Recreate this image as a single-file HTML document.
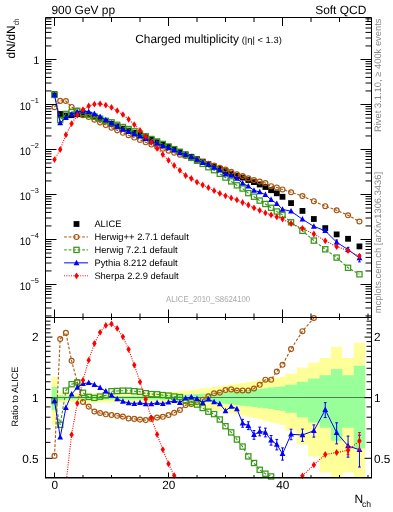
<!DOCTYPE html><html><head><meta charset="utf-8"><style>html,body{margin:0;padding:0;background:#fff;}svg{display:block;will-change:transform;}text{font-family:"Liberation Sans",sans-serif;text-rendering:geometricPrecision;}</style></head><body>
<svg width="393" height="512" viewBox="0 0 393 512">
<rect x="0" y="0" width="393" height="512" fill="#fff"/>
<defs><clipPath id="cm"><rect x="45.5" y="17.5" width="326.0" height="300.0"/></clipPath>
<clipPath id="cr"><rect x="45.5" y="317.5" width="326.0" height="160.0"/></clipPath></defs>
<g clip-path="url(#cr)">
<polygon points="51.65,377.08 57.35,377.08 57.35,393.1 63.05,393.1 63.05,393.18 68.75,393.18 68.75,393.18 74.45,393.18 74.45,393.18 80.15,393.18 80.15,393.18 85.85,393.18 85.85,393.18 91.55,393.18 91.55,393.18 97.25,393.18 97.25,393.18 102.95,393.18 102.95,393.18 108.65,393.18 108.65,393.18 114.35,393.18 114.35,393.18 120.05,393.18 120.05,393.18 125.75,393.18 125.75,393.18 131.45,393.18 131.45,393.18 137.15,393.18 137.15,393.18 142.85,393.18 142.85,393.18 148.55,393.18 148.55,393.18 154.25,393.18 154.25,393.18 159.95,393.18 159.95,392.86 165.65,392.86 165.65,392.39 171.35,392.39 171.35,391.85 177.05,391.85 177.05,391.25 182.75,391.25 182.75,390.61 188.45,390.61 188.45,389.93 194.15,389.93 194.15,389.23 199.85,389.23 199.85,388.5 205.55,388.5 205.55,387.75 211.25,387.75 211.25,386.98 216.95,386.98 216.95,386.19 222.65,386.19 222.65,385.39 228.35,385.39 228.35,384.57 234.05,384.57 234.05,383.75 239.75,383.75 239.75,382.91 245.45,382.91 245.45,382.07 251.15,382.07 251.15,381.22 256.85,381.22 256.85,380.36 262.55,380.36 262.55,379.49 268.25,379.49 268.25,378.62 273.95,378.62 273.95,377.75 279.65,377.75 279.65,376.87 285.35,376.87 285.35,373.76 296.75,373.76 296.75,367.41 308.15,367.41 308.15,362.84 319.55,362.84 319.55,357.99 330.95,357.99 330.95,347.04 342.35,347.04 342.35,357.99 353.75,357.99 353.75,342.93 365.15,342.93 365.15,490 353.75,490 353.75,472.51 342.35,472.51 342.35,490 330.95,490 330.95,472.51 319.55,472.51 319.55,456.57 308.15,456.57 308.15,444.42 296.75,444.42 296.75,430.78 285.35,430.78 285.35,425.09 279.65,425.09 279.65,423.59 273.95,423.59 273.95,422.13 268.25,422.13 268.25,420.72 262.55,420.72 262.55,419.36 256.85,419.36 256.85,418.03 251.15,418.03 251.15,416.75 245.45,416.75 245.45,415.51 239.75,415.51 239.75,414.31 234.05,414.31 234.05,413.15 228.35,413.15 228.35,412.04 222.65,412.04 222.65,410.96 216.95,410.96 216.95,409.93 211.25,409.93 211.25,408.93 205.55,408.93 205.55,407.99 199.85,407.99 199.85,407.08 194.15,407.08 194.15,406.22 188.45,406.22 188.45,405.42 182.75,405.42 182.75,404.66 177.05,404.66 177.05,403.97 171.35,403.97 171.35,403.35 165.65,403.35 165.65,402.82 159.95,402.82 159.95,402.46 154.25,402.46 154.25,402.46 148.55,402.46 148.55,402.46 142.85,402.46 142.85,402.46 137.15,402.46 137.15,402.46 131.45,402.46 131.45,402.46 125.75,402.46 125.75,402.46 120.05,402.46 120.05,402.46 114.35,402.46 114.35,402.46 108.65,402.46 108.65,402.46 102.95,402.46 102.95,402.46 97.25,402.46 97.25,402.46 91.55,402.46 91.55,402.46 85.85,402.46 85.85,402.46 80.15,402.46 80.15,402.46 74.45,402.46 74.45,402.46 68.75,402.46 68.75,402.46 63.05,402.46 63.05,402.55 57.35,402.55 57.35,424.74 51.65,424.74" fill="#ffff99"/>
<polygon points="51.65,387.01 57.35,387.01 57.35,395.37 63.05,395.37 63.05,395.88 68.75,395.88 68.75,395.88 74.45,395.88 74.45,395.88 80.15,395.88 80.15,395.88 85.85,395.88 85.85,395.88 91.55,395.88 91.55,395.88 97.25,395.88 97.25,395.88 102.95,395.88 102.95,395.88 108.65,395.88 108.65,395.88 114.35,395.88 114.35,395.88 120.05,395.88 120.05,395.88 125.75,395.88 125.75,395.88 131.45,395.88 131.45,395.88 137.15,395.88 137.15,395.88 142.85,395.88 142.85,395.88 148.55,395.88 148.55,395.88 154.25,395.88 154.25,395.88 159.95,395.88 159.95,395.79 165.65,395.79 165.65,395.61 171.35,395.61 171.35,395.38 177.05,395.38 177.05,395.11 182.75,395.11 182.75,394.8 188.45,394.8 188.45,394.47 194.15,394.47 194.15,394.1 199.85,394.1 199.85,393.71 205.55,393.71 205.55,393.3 211.25,393.3 211.25,392.87 216.95,392.87 216.95,392.41 222.65,392.41 222.65,391.94 228.35,391.94 228.35,391.45 234.05,391.45 234.05,390.94 239.75,390.94 239.75,390.42 245.45,390.42 245.45,389.88 251.15,389.88 251.15,389.33 256.85,389.33 256.85,388.77 262.55,388.77 262.55,388.19 268.25,388.19 268.25,387.6 273.95,387.6 273.95,387.01 279.65,387.01 279.65,386.4 285.35,386.4 285.35,384.8 296.75,384.8 296.75,381.76 308.15,381.76 308.15,378.47 319.55,378.47 319.55,375.37 330.95,375.37 330.95,369.04 342.35,369.04 342.35,375.37 353.75,375.37 353.75,365.82 365.15,365.82 365.15,448.39 353.75,448.39 353.75,427.77 342.35,427.77 342.35,440.63 330.95,440.63 330.95,427.77 319.55,427.77 319.55,422.39 308.15,422.39 308.15,417.21 296.75,417.21 296.75,412.84 285.35,412.84 285.35,410.68 279.65,410.68 279.65,409.89 273.95,409.89 273.95,409.12 268.25,409.12 268.25,408.37 262.55,408.37 262.55,407.65 256.85,407.65 256.85,406.96 251.15,406.96 251.15,406.29 245.45,406.29 245.45,405.65 239.75,405.65 239.75,405.03 234.05,405.03 234.05,404.44 228.35,404.44 228.35,403.87 222.65,403.87 222.65,403.33 216.95,403.33 216.95,402.82 211.25,402.82 211.25,402.33 205.55,402.33 205.55,401.88 199.85,401.88 199.85,401.45 194.15,401.45 194.15,401.06 188.45,401.06 188.45,400.69 182.75,400.69 182.75,400.37 177.05,400.37 177.05,400.08 171.35,400.08 171.35,399.84 165.65,399.84 165.65,399.66 159.95,399.66 159.95,399.56 154.25,399.56 154.25,399.56 148.55,399.56 148.55,399.56 142.85,399.56 142.85,399.56 137.15,399.56 137.15,399.56 131.45,399.56 131.45,399.56 125.75,399.56 125.75,399.56 120.05,399.56 120.05,399.56 114.35,399.56 114.35,399.56 108.65,399.56 108.65,399.56 102.95,399.56 102.95,399.56 97.25,399.56 97.25,399.56 91.55,399.56 91.55,399.56 85.85,399.56 85.85,399.56 80.15,399.56 80.15,399.56 74.45,399.56 74.45,399.56 68.75,399.56 68.75,399.56 63.05,399.56 63.05,400.09 57.35,400.09 57.35,409.88 51.65,409.88" fill="#99ff99"/>
<rect x="45.5" y="397" width="326" height="1" fill="#000"/>
<rect x="51.65" y="397" width="313.5" height="1" fill="#4d7f4d"/>
</g>
<g clip-path="url(#cr)"><polyline points="54.5,455.9 60.2,339 65.9,332.9 71.6,360.8 77.3,382.1 83,402 88.7,406.6 94.4,411.5 100.1,413 105.8,414.3 111.5,415 117.2,415.8 122.9,416.6 128.6,418.5 134.3,418.9 140,419.6 145.7,420.1 151.4,418.9 157.1,417.6 162.8,416.8 168.5,415 174.2,412.8 179.9,410 185.6,405.1 191.3,404.1 197,402 202.7,399.7 208.4,396.3 214.1,393.3 219.8,392.6 225.5,390 231.2,389.4 236.9,390.5 242.6,390.5 248.3,390.5 254,388.5 259.7,384.8 265.4,379.7 271.1,379.7 276.8,371.6 282.5,364.8 291.05,349.1 302.45,331.2 313.85,318 325.25,299.71 336.65,289.87 348.05,292.55 359.45,286.29" fill="none" stroke="#a8560e" stroke-width="1.1" stroke-dasharray="2.8 1.7"/></g><circle cx="54.5" cy="455.9" r="2.45" fill="none" stroke="#a8560e" stroke-width="1.2"/><circle cx="60.2" cy="339" r="2.45" fill="none" stroke="#a8560e" stroke-width="1.2"/><circle cx="65.9" cy="332.9" r="2.45" fill="none" stroke="#a8560e" stroke-width="1.2"/><circle cx="71.6" cy="360.8" r="2.45" fill="none" stroke="#a8560e" stroke-width="1.2"/><circle cx="77.3" cy="382.1" r="2.45" fill="none" stroke="#a8560e" stroke-width="1.2"/><circle cx="83" cy="402" r="2.45" fill="none" stroke="#a8560e" stroke-width="1.2"/><circle cx="88.7" cy="406.6" r="2.45" fill="none" stroke="#a8560e" stroke-width="1.2"/><circle cx="94.4" cy="411.5" r="2.45" fill="none" stroke="#a8560e" stroke-width="1.2"/><circle cx="100.1" cy="413" r="2.45" fill="none" stroke="#a8560e" stroke-width="1.2"/><circle cx="105.8" cy="414.3" r="2.45" fill="none" stroke="#a8560e" stroke-width="1.2"/><circle cx="111.5" cy="415" r="2.45" fill="none" stroke="#a8560e" stroke-width="1.2"/><circle cx="117.2" cy="415.8" r="2.45" fill="none" stroke="#a8560e" stroke-width="1.2"/><circle cx="122.9" cy="416.6" r="2.45" fill="none" stroke="#a8560e" stroke-width="1.2"/><circle cx="128.6" cy="418.5" r="2.45" fill="none" stroke="#a8560e" stroke-width="1.2"/><circle cx="134.3" cy="418.9" r="2.45" fill="none" stroke="#a8560e" stroke-width="1.2"/><circle cx="140" cy="419.6" r="2.45" fill="none" stroke="#a8560e" stroke-width="1.2"/><circle cx="145.7" cy="420.1" r="2.45" fill="none" stroke="#a8560e" stroke-width="1.2"/><circle cx="151.4" cy="418.9" r="2.45" fill="none" stroke="#a8560e" stroke-width="1.2"/><circle cx="157.1" cy="417.6" r="2.45" fill="none" stroke="#a8560e" stroke-width="1.2"/><circle cx="162.8" cy="416.8" r="2.45" fill="none" stroke="#a8560e" stroke-width="1.2"/><circle cx="168.5" cy="415" r="2.45" fill="none" stroke="#a8560e" stroke-width="1.2"/><circle cx="174.2" cy="412.8" r="2.45" fill="none" stroke="#a8560e" stroke-width="1.2"/><circle cx="179.9" cy="410" r="2.45" fill="none" stroke="#a8560e" stroke-width="1.2"/><circle cx="185.6" cy="405.1" r="2.45" fill="none" stroke="#a8560e" stroke-width="1.2"/><circle cx="191.3" cy="404.1" r="2.45" fill="none" stroke="#a8560e" stroke-width="1.2"/><circle cx="197" cy="402" r="2.45" fill="none" stroke="#a8560e" stroke-width="1.2"/><circle cx="202.7" cy="399.7" r="2.45" fill="none" stroke="#a8560e" stroke-width="1.2"/><circle cx="208.4" cy="396.3" r="2.45" fill="none" stroke="#a8560e" stroke-width="1.2"/><circle cx="214.1" cy="393.3" r="2.45" fill="none" stroke="#a8560e" stroke-width="1.2"/><circle cx="219.8" cy="392.6" r="2.45" fill="none" stroke="#a8560e" stroke-width="1.2"/><circle cx="225.5" cy="390" r="2.45" fill="none" stroke="#a8560e" stroke-width="1.2"/><circle cx="231.2" cy="389.4" r="2.45" fill="none" stroke="#a8560e" stroke-width="1.2"/><circle cx="236.9" cy="390.5" r="2.45" fill="none" stroke="#a8560e" stroke-width="1.2"/><circle cx="242.6" cy="390.5" r="2.45" fill="none" stroke="#a8560e" stroke-width="1.2"/><circle cx="248.3" cy="390.5" r="2.45" fill="none" stroke="#a8560e" stroke-width="1.2"/><circle cx="254" cy="388.5" r="2.45" fill="none" stroke="#a8560e" stroke-width="1.2"/><circle cx="259.7" cy="384.8" r="2.45" fill="none" stroke="#a8560e" stroke-width="1.2"/><circle cx="265.4" cy="379.7" r="2.45" fill="none" stroke="#a8560e" stroke-width="1.2"/><circle cx="271.1" cy="379.7" r="2.45" fill="none" stroke="#a8560e" stroke-width="1.2"/><circle cx="276.8" cy="371.6" r="2.45" fill="none" stroke="#a8560e" stroke-width="1.2"/><circle cx="282.5" cy="364.8" r="2.45" fill="none" stroke="#a8560e" stroke-width="1.2"/><circle cx="291.05" cy="349.1" r="2.45" fill="none" stroke="#a8560e" stroke-width="1.2"/><circle cx="302.45" cy="331.2" r="2.45" fill="none" stroke="#a8560e" stroke-width="1.2"/><circle cx="313.85" cy="318" r="2.45" fill="none" stroke="#a8560e" stroke-width="1.2"/>
<g clip-path="url(#cr)"><polyline points="54.5,401 60.2,424.8 65.9,390.6 71.6,384.2 77.3,382.5 83,392.8 88.7,396.9 94.4,397.9 100.1,396.6 105.8,395.3 111.5,391.2 117.2,391 122.9,390.7 128.6,390.7 134.3,391.2 140,391.7 145.7,393.2 151.4,394.1 157.1,394.3 162.8,395.1 168.5,395.6 174.2,396.5 179.9,397.1 185.6,400.5 191.3,402.1 197,404.6 202.7,408 208.4,411.7 214.1,414.1 219.8,419.5 225.5,426.2 231.2,432.4 236.9,439.5 242.6,446.6 248.3,456.4 254,463 259.7,469.8 265.4,473.7 271.1,476.45 276.8,479.13 282.5,478.68 291.05,483.61 302.45,486.74 313.85,494.34 325.25,492.55 336.65,501.5 348.05,527.45 359.45,522.53" fill="none" stroke="#389818" stroke-width="1.1" stroke-dasharray="2.8 1.7"/></g><rect x="51.9" y="398.4" width="5.2" height="5.2" fill="none" stroke="#389818" stroke-width="1.25"/><rect x="57.6" y="422.2" width="5.2" height="5.2" fill="none" stroke="#389818" stroke-width="1.25"/><rect x="63.3" y="388" width="5.2" height="5.2" fill="none" stroke="#389818" stroke-width="1.25"/><rect x="69" y="381.6" width="5.2" height="5.2" fill="none" stroke="#389818" stroke-width="1.25"/><rect x="74.7" y="379.9" width="5.2" height="5.2" fill="none" stroke="#389818" stroke-width="1.25"/><rect x="80.4" y="390.2" width="5.2" height="5.2" fill="none" stroke="#389818" stroke-width="1.25"/><rect x="86.1" y="394.3" width="5.2" height="5.2" fill="none" stroke="#389818" stroke-width="1.25"/><rect x="91.8" y="395.3" width="5.2" height="5.2" fill="none" stroke="#389818" stroke-width="1.25"/><rect x="97.5" y="394" width="5.2" height="5.2" fill="none" stroke="#389818" stroke-width="1.25"/><rect x="103.2" y="392.7" width="5.2" height="5.2" fill="none" stroke="#389818" stroke-width="1.25"/><rect x="108.9" y="388.6" width="5.2" height="5.2" fill="none" stroke="#389818" stroke-width="1.25"/><rect x="114.6" y="388.4" width="5.2" height="5.2" fill="none" stroke="#389818" stroke-width="1.25"/><rect x="120.3" y="388.1" width="5.2" height="5.2" fill="none" stroke="#389818" stroke-width="1.25"/><rect x="126" y="388.1" width="5.2" height="5.2" fill="none" stroke="#389818" stroke-width="1.25"/><rect x="131.7" y="388.6" width="5.2" height="5.2" fill="none" stroke="#389818" stroke-width="1.25"/><rect x="137.4" y="389.1" width="5.2" height="5.2" fill="none" stroke="#389818" stroke-width="1.25"/><rect x="143.1" y="390.6" width="5.2" height="5.2" fill="none" stroke="#389818" stroke-width="1.25"/><rect x="148.8" y="391.5" width="5.2" height="5.2" fill="none" stroke="#389818" stroke-width="1.25"/><rect x="154.5" y="391.7" width="5.2" height="5.2" fill="none" stroke="#389818" stroke-width="1.25"/><rect x="160.2" y="392.5" width="5.2" height="5.2" fill="none" stroke="#389818" stroke-width="1.25"/><rect x="165.9" y="393" width="5.2" height="5.2" fill="none" stroke="#389818" stroke-width="1.25"/><rect x="171.6" y="393.9" width="5.2" height="5.2" fill="none" stroke="#389818" stroke-width="1.25"/><rect x="177.3" y="394.5" width="5.2" height="5.2" fill="none" stroke="#389818" stroke-width="1.25"/><rect x="183" y="397.9" width="5.2" height="5.2" fill="none" stroke="#389818" stroke-width="1.25"/><rect x="188.7" y="399.5" width="5.2" height="5.2" fill="none" stroke="#389818" stroke-width="1.25"/><rect x="194.4" y="402" width="5.2" height="5.2" fill="none" stroke="#389818" stroke-width="1.25"/><rect x="200.1" y="405.4" width="5.2" height="5.2" fill="none" stroke="#389818" stroke-width="1.25"/><rect x="205.8" y="409.1" width="5.2" height="5.2" fill="none" stroke="#389818" stroke-width="1.25"/><rect x="211.5" y="411.5" width="5.2" height="5.2" fill="none" stroke="#389818" stroke-width="1.25"/><rect x="217.2" y="416.9" width="5.2" height="5.2" fill="none" stroke="#389818" stroke-width="1.25"/><rect x="222.9" y="423.6" width="5.2" height="5.2" fill="none" stroke="#389818" stroke-width="1.25"/><rect x="228.6" y="429.8" width="5.2" height="5.2" fill="none" stroke="#389818" stroke-width="1.25"/><rect x="234.3" y="436.9" width="5.2" height="5.2" fill="none" stroke="#389818" stroke-width="1.25"/><rect x="240" y="444" width="5.2" height="5.2" fill="none" stroke="#389818" stroke-width="1.25"/><rect x="245.7" y="453.8" width="5.2" height="5.2" fill="none" stroke="#389818" stroke-width="1.25"/><rect x="251.4" y="460.4" width="5.2" height="5.2" fill="none" stroke="#389818" stroke-width="1.25"/><rect x="257.1" y="467.2" width="5.2" height="5.2" fill="none" stroke="#389818" stroke-width="1.25"/><rect x="262.8" y="471.1" width="5.2" height="5.2" fill="none" stroke="#389818" stroke-width="1.25"/><rect x="268.5" y="473.85" width="5.2" height="5.2" fill="none" stroke="#389818" stroke-width="1.25"/>
<g clip-path="url(#cr)"><path d="M242.6 419.35V427.23M241.2 419.35H244M241.2 427.23H244" stroke="#0000ff" stroke-width="1" fill="none"/><path d="M248.3 421.75V429.63M246.9 421.75H249.7M246.9 429.63H249.7" stroke="#0000ff" stroke-width="1" fill="none"/><path d="M254 430.53V439.28M252.6 430.53H255.4M252.6 439.28H255.4" stroke="#0000ff" stroke-width="1" fill="none"/><path d="M259.7 427.13V435.88M258.3 427.13H261.1M258.3 435.88H261.1" stroke="#0000ff" stroke-width="1" fill="none"/><path d="M265.4 428.13V436.88M264 428.13H266.8M264 436.88H266.8" stroke="#0000ff" stroke-width="1" fill="none"/><path d="M271.1 435.52V445.15M269.7 435.52H272.5M269.7 445.15H272.5" stroke="#0000ff" stroke-width="1" fill="none"/><path d="M276.8 439.41V449.91M275.4 439.41H278.2M275.4 449.91H278.2" stroke="#0000ff" stroke-width="1" fill="none"/><path d="M282.5 447.88V460.14M281.1 447.88H283.9M281.1 460.14H283.9" stroke="#0000ff" stroke-width="1" fill="none"/><path d="M291.05 429.21V439.71M289.65 429.21H292.45M289.65 439.71H292.45" stroke="#0000ff" stroke-width="1" fill="none"/><path d="M302.45 429.08V441.34M301.05 429.08H303.85M301.05 441.34H303.85" stroke="#0000ff" stroke-width="1" fill="none"/><path d="M313.85 424.88V437.14M312.45 424.88H315.25M312.45 437.14H315.25" stroke="#0000ff" stroke-width="1" fill="none"/><path d="M325.25 402.67V417.57M323.85 402.67H326.65M323.85 417.57H326.65" stroke="#0000ff" stroke-width="1" fill="none"/><path d="M336.65 422.79V443.88M335.25 422.79H338.05M335.25 443.88H338.05" stroke="#0000ff" stroke-width="1" fill="none"/><path d="M348.05 436.09V457.18M346.65 436.09H349.45M346.65 457.18H349.45" stroke="#0000ff" stroke-width="1" fill="none"/><path d="M359.45 435.23V467.05M358.05 435.23H360.85M358.05 467.05H360.85" stroke="#0000ff" stroke-width="1" fill="none"/><polyline points="54.5,400.7 60.2,437.2 65.9,407.7 71.6,394.3 77.3,387.4 83,383.7 88.7,382.8 94.4,384.6 100.1,387.7 105.8,391.3 111.5,395.3 117.2,398.9 122.9,401.4 128.6,402.9 134.3,403.6 140,402.8 145.7,403.9 151.4,403.9 157.1,402.8 162.8,403.7 168.5,402.3 174.2,400.6 179.9,402.7 185.6,398.3 191.3,396.9 197,398.7 202.7,402.8 208.4,399.3 214.1,401.9 219.8,404 225.5,410.9 231.2,406.4 236.9,408.9 242.6,423.2 248.3,425.6 254,434.8 259.7,431.4 265.4,432.4 271.1,440.2 276.8,444.5 282.5,453.8 291.05,434.3 302.45,435 313.85,430.8 325.25,409.8 336.65,432.7 348.05,446 359.45,449.7" fill="none" stroke="#0000ff" stroke-width="1"/></g><polygon points="54.5,397.5 57.4,403 51.6,403" fill="#0000ff"/><polygon points="60.2,434 63.1,439.5 57.3,439.5" fill="#0000ff"/><polygon points="65.9,404.5 68.8,410 63,410" fill="#0000ff"/><polygon points="71.6,391.1 74.5,396.6 68.7,396.6" fill="#0000ff"/><polygon points="77.3,384.2 80.2,389.7 74.4,389.7" fill="#0000ff"/><polygon points="83,380.5 85.9,386 80.1,386" fill="#0000ff"/><polygon points="88.7,379.6 91.6,385.1 85.8,385.1" fill="#0000ff"/><polygon points="94.4,381.4 97.3,386.9 91.5,386.9" fill="#0000ff"/><polygon points="100.1,384.5 103,390 97.2,390" fill="#0000ff"/><polygon points="105.8,388.1 108.7,393.6 102.9,393.6" fill="#0000ff"/><polygon points="111.5,392.1 114.4,397.6 108.6,397.6" fill="#0000ff"/><polygon points="117.2,395.7 120.1,401.2 114.3,401.2" fill="#0000ff"/><polygon points="122.9,398.2 125.8,403.7 120,403.7" fill="#0000ff"/><polygon points="128.6,399.7 131.5,405.2 125.7,405.2" fill="#0000ff"/><polygon points="134.3,400.4 137.2,405.9 131.4,405.9" fill="#0000ff"/><polygon points="140,399.6 142.9,405.1 137.1,405.1" fill="#0000ff"/><polygon points="145.7,400.7 148.6,406.2 142.8,406.2" fill="#0000ff"/><polygon points="151.4,400.7 154.3,406.2 148.5,406.2" fill="#0000ff"/><polygon points="157.1,399.6 160,405.1 154.2,405.1" fill="#0000ff"/><polygon points="162.8,400.5 165.7,406 159.9,406" fill="#0000ff"/><polygon points="168.5,399.1 171.4,404.6 165.6,404.6" fill="#0000ff"/><polygon points="174.2,397.4 177.1,402.9 171.3,402.9" fill="#0000ff"/><polygon points="179.9,399.5 182.8,405 177,405" fill="#0000ff"/><polygon points="185.6,395.1 188.5,400.6 182.7,400.6" fill="#0000ff"/><polygon points="191.3,393.7 194.2,399.2 188.4,399.2" fill="#0000ff"/><polygon points="197,395.5 199.9,401 194.1,401" fill="#0000ff"/><polygon points="202.7,399.6 205.6,405.1 199.8,405.1" fill="#0000ff"/><polygon points="208.4,396.1 211.3,401.6 205.5,401.6" fill="#0000ff"/><polygon points="214.1,398.7 217,404.2 211.2,404.2" fill="#0000ff"/><polygon points="219.8,400.8 222.7,406.3 216.9,406.3" fill="#0000ff"/><polygon points="225.5,407.7 228.4,413.2 222.6,413.2" fill="#0000ff"/><polygon points="231.2,403.2 234.1,408.7 228.3,408.7" fill="#0000ff"/><polygon points="236.9,405.7 239.8,411.2 234,411.2" fill="#0000ff"/><polygon points="242.6,420 245.5,425.5 239.7,425.5" fill="#0000ff"/><polygon points="248.3,422.4 251.2,427.9 245.4,427.9" fill="#0000ff"/><polygon points="254,431.6 256.9,437.1 251.1,437.1" fill="#0000ff"/><polygon points="259.7,428.2 262.6,433.7 256.8,433.7" fill="#0000ff"/><polygon points="265.4,429.2 268.3,434.7 262.5,434.7" fill="#0000ff"/><polygon points="271.1,437 274,442.5 268.2,442.5" fill="#0000ff"/><polygon points="276.8,441.3 279.7,446.8 273.9,446.8" fill="#0000ff"/><polygon points="282.5,450.6 285.4,456.1 279.6,456.1" fill="#0000ff"/><polygon points="291.05,431.1 293.95,436.6 288.15,436.6" fill="#0000ff"/><polygon points="302.45,431.8 305.35,437.3 299.55,437.3" fill="#0000ff"/><polygon points="313.85,427.6 316.75,433.1 310.95,433.1" fill="#0000ff"/><polygon points="325.25,406.6 328.15,412.1 322.35,412.1" fill="#0000ff"/><polygon points="336.65,429.5 339.55,435 333.75,435" fill="#0000ff"/><polygon points="348.05,442.8 350.95,448.3 345.15,448.3" fill="#0000ff"/><polygon points="359.45,446.5 362.35,452 356.55,452" fill="#0000ff"/>
<g clip-path="url(#cr)"><path d="M348.05 445.93V454.68M346.65 445.93H349.45M346.65 454.68H349.45" stroke="#ff0000" stroke-width="1" fill="none"/><path d="M359.45 432.57V450.11M358.05 432.57H360.85M358.05 450.11H360.85" stroke="#ff0000" stroke-width="1" fill="none"/><polyline points="54.5,690.32 60.2,556.54 65.9,484.05 71.6,434.7 77.3,403.3 83,380.2 88.7,360.2 94.4,343.5 100.1,332.3 105.8,325.4 111.5,323.9 117.2,328.4 122.9,336.8 128.6,349.4 134.3,365.1 140,381.9 145.7,399.3 151.4,418 157.1,434.4 162.8,449.6 168.5,463.8 174.2,475.6 179.9,480.47 185.6,492.11 191.3,494.79 197,500.61 202.7,502.4 208.4,503.29 214.1,505.98 219.8,507.32 225.5,507.77 231.2,506.42 236.9,504.64 242.6,509.11 248.3,509.56 254,512.69 259.7,513.58 265.4,513.58 271.1,508.21 276.8,503.29 282.5,497.03 291.05,488.98 302.45,475.8 313.85,464.9 325.25,454.5 336.65,452.5 348.05,450.2 359.45,440.9" fill="none" stroke="#ff0000" stroke-width="1.1" stroke-dasharray="1 1.3"/></g><polygon points="71.6,431.3 73.8,434.7 71.6,438.1 69.4,434.7" fill="#ff0000"/><polygon points="77.3,399.9 79.5,403.3 77.3,406.7 75.1,403.3" fill="#ff0000"/><polygon points="83,376.8 85.2,380.2 83,383.6 80.8,380.2" fill="#ff0000"/><polygon points="88.7,356.8 90.9,360.2 88.7,363.6 86.5,360.2" fill="#ff0000"/><polygon points="94.4,340.1 96.6,343.5 94.4,346.9 92.2,343.5" fill="#ff0000"/><polygon points="100.1,328.9 102.3,332.3 100.1,335.7 97.9,332.3" fill="#ff0000"/><polygon points="105.8,322 108,325.4 105.8,328.8 103.6,325.4" fill="#ff0000"/><polygon points="111.5,320.5 113.7,323.9 111.5,327.3 109.3,323.9" fill="#ff0000"/><polygon points="117.2,325 119.4,328.4 117.2,331.8 115,328.4" fill="#ff0000"/><polygon points="122.9,333.4 125.1,336.8 122.9,340.2 120.7,336.8" fill="#ff0000"/><polygon points="128.6,346 130.8,349.4 128.6,352.8 126.4,349.4" fill="#ff0000"/><polygon points="134.3,361.7 136.5,365.1 134.3,368.5 132.1,365.1" fill="#ff0000"/><polygon points="140,378.5 142.2,381.9 140,385.3 137.8,381.9" fill="#ff0000"/><polygon points="145.7,395.9 147.9,399.3 145.7,402.7 143.5,399.3" fill="#ff0000"/><polygon points="151.4,414.6 153.6,418 151.4,421.4 149.2,418" fill="#ff0000"/><polygon points="157.1,431 159.3,434.4 157.1,437.8 154.9,434.4" fill="#ff0000"/><polygon points="162.8,446.2 165,449.6 162.8,453 160.6,449.6" fill="#ff0000"/><polygon points="168.5,460.4 170.7,463.8 168.5,467.2 166.3,463.8" fill="#ff0000"/><polygon points="174.2,472.2 176.4,475.6 174.2,479 172,475.6" fill="#ff0000"/><polygon points="302.45,472.4 304.65,475.8 302.45,479.2 300.25,475.8" fill="#ff0000"/><polygon points="313.85,461.5 316.05,464.9 313.85,468.3 311.65,464.9" fill="#ff0000"/><polygon points="325.25,451.1 327.45,454.5 325.25,457.9 323.05,454.5" fill="#ff0000"/><polygon points="336.65,449.1 338.85,452.5 336.65,455.9 334.45,452.5" fill="#ff0000"/><polygon points="348.05,446.8 350.25,450.2 348.05,453.6 345.85,450.2" fill="#ff0000"/><polygon points="359.45,437.5 361.65,440.9 359.45,444.3 357.25,440.9" fill="#ff0000"/>
<g clip-path="url(#cm)"></g><rect x="51.6" y="91.3" width="5.8" height="5.8" fill="#000"/><rect x="57.3" y="111.1" width="5.8" height="5.8" fill="#000"/><rect x="63" y="112.6" width="5.8" height="5.8" fill="#000"/><rect x="68.7" y="112.3" width="5.8" height="5.8" fill="#000"/><rect x="74.4" y="111.3" width="5.8" height="5.8" fill="#000"/><rect x="80.1" y="111.4" width="5.8" height="5.8" fill="#000"/><rect x="85.8" y="112.1" width="5.8" height="5.8" fill="#000"/><rect x="91.5" y="113.7" width="5.8" height="5.8" fill="#000"/><rect x="97.2" y="116.1" width="5.8" height="5.8" fill="#000"/><rect x="102.9" y="118.5" width="5.8" height="5.8" fill="#000"/><rect x="108.6" y="120.9" width="5.8" height="5.8" fill="#000"/><rect x="114.3" y="123.4" width="5.8" height="5.8" fill="#000"/><rect x="120" y="125.7" width="5.8" height="5.8" fill="#000"/><rect x="125.7" y="127.7" width="5.8" height="5.8" fill="#000"/><rect x="131.4" y="129.9" width="5.8" height="5.8" fill="#000"/><rect x="137.1" y="132.1" width="5.8" height="5.8" fill="#000"/><rect x="142.8" y="134.4" width="5.8" height="5.8" fill="#000"/><rect x="148.5" y="136.9" width="5.8" height="5.8" fill="#000"/><rect x="154.2" y="139.3" width="5.8" height="5.8" fill="#000"/><rect x="159.9" y="141.6" width="5.8" height="5.8" fill="#000"/><rect x="165.6" y="144" width="5.8" height="5.8" fill="#000"/><rect x="171.3" y="146.5" width="5.8" height="5.8" fill="#000"/><rect x="177" y="149" width="5.8" height="5.8" fill="#000"/><rect x="182.7" y="151.5" width="5.8" height="5.8" fill="#000"/><rect x="188.4" y="153.9" width="5.8" height="5.8" fill="#000"/><rect x="194.1" y="156.3" width="5.8" height="5.8" fill="#000"/><rect x="199.8" y="158.7" width="5.8" height="5.8" fill="#000"/><rect x="205.5" y="161.2" width="5.8" height="5.8" fill="#000"/><rect x="211.2" y="163.6" width="5.8" height="5.8" fill="#000"/><rect x="216.9" y="166" width="5.8" height="5.8" fill="#000"/><rect x="222.6" y="168.3" width="5.8" height="5.8" fill="#000"/><rect x="228.3" y="170.7" width="5.8" height="5.8" fill="#000"/><rect x="234" y="173.1" width="5.8" height="5.8" fill="#000"/><rect x="239.7" y="174.7" width="5.8" height="5.8" fill="#000"/><rect x="245.4" y="177.1" width="5.8" height="5.8" fill="#000"/><rect x="251.1" y="179.2" width="5.8" height="5.8" fill="#000"/><rect x="256.8" y="181.6" width="5.8" height="5.8" fill="#000"/><rect x="262.5" y="184.1" width="5.8" height="5.8" fill="#000"/><rect x="268.2" y="187.3" width="5.8" height="5.8" fill="#000"/><rect x="273.9" y="190.4" width="5.8" height="5.8" fill="#000"/><rect x="279.6" y="193.9" width="5.8" height="5.8" fill="#000"/><rect x="288.15" y="200.2" width="5.8" height="5.8" fill="#000"/><rect x="299.55" y="208" width="5.8" height="5.8" fill="#000"/><rect x="310.95" y="216.1" width="5.8" height="5.8" fill="#000"/><rect x="322.35" y="225.2" width="5.8" height="5.8" fill="#000"/><rect x="333.75" y="231.5" width="5.8" height="5.8" fill="#000"/><rect x="345.15" y="235.9" width="5.8" height="5.8" fill="#000"/><rect x="356.55" y="243.5" width="5.8" height="5.8" fill="#000"/>
<g clip-path="url(#cm)"><polyline points="54.5,107.21 60.2,100.88 65.9,101.02 71.6,106.95 77.3,110.71 83,115.26 88.7,116.99 94.4,119.68 100.1,122.42 105.8,125.11 111.5,127.67 117.2,130.35 122.9,132.82 128.6,135.25 134.3,137.54 140,139.89 145.7,142.31 151.4,144.54 157.1,146.65 162.8,148.77 168.5,150.77 174.2,152.77 179.9,154.65 185.6,156.05 191.3,158.23 197,160.16 202.7,162.05 208.4,163.79 214.1,165.52 219.8,167.76 225.5,169.48 231.2,171.74 236.9,174.39 242.6,175.99 248.3,178.39 254,180.04 259.7,181.62 265.4,182.98 271.1,186.18 276.8,187.47 282.5,189.45 291.05,192.24 302.45,196.04 313.85,201.19 325.25,206.2 336.65,210.3 348.05,215.3 359.45,221.5" fill="none" stroke="#a8560e" stroke-width="1.1" stroke-dasharray="2.8 1.7"/></g><circle cx="54.5" cy="107.21" r="2.45" fill="none" stroke="#a8560e" stroke-width="1.2"/><circle cx="60.2" cy="100.88" r="2.45" fill="none" stroke="#a8560e" stroke-width="1.2"/><circle cx="65.9" cy="101.02" r="2.45" fill="none" stroke="#a8560e" stroke-width="1.2"/><circle cx="71.6" cy="106.95" r="2.45" fill="none" stroke="#a8560e" stroke-width="1.2"/><circle cx="77.3" cy="110.71" r="2.45" fill="none" stroke="#a8560e" stroke-width="1.2"/><circle cx="83" cy="115.26" r="2.45" fill="none" stroke="#a8560e" stroke-width="1.2"/><circle cx="88.7" cy="116.99" r="2.45" fill="none" stroke="#a8560e" stroke-width="1.2"/><circle cx="94.4" cy="119.68" r="2.45" fill="none" stroke="#a8560e" stroke-width="1.2"/><circle cx="100.1" cy="122.42" r="2.45" fill="none" stroke="#a8560e" stroke-width="1.2"/><circle cx="105.8" cy="125.11" r="2.45" fill="none" stroke="#a8560e" stroke-width="1.2"/><circle cx="111.5" cy="127.67" r="2.45" fill="none" stroke="#a8560e" stroke-width="1.2"/><circle cx="117.2" cy="130.35" r="2.45" fill="none" stroke="#a8560e" stroke-width="1.2"/><circle cx="122.9" cy="132.82" r="2.45" fill="none" stroke="#a8560e" stroke-width="1.2"/><circle cx="128.6" cy="135.25" r="2.45" fill="none" stroke="#a8560e" stroke-width="1.2"/><circle cx="134.3" cy="137.54" r="2.45" fill="none" stroke="#a8560e" stroke-width="1.2"/><circle cx="140" cy="139.89" r="2.45" fill="none" stroke="#a8560e" stroke-width="1.2"/><circle cx="145.7" cy="142.31" r="2.45" fill="none" stroke="#a8560e" stroke-width="1.2"/><circle cx="151.4" cy="144.54" r="2.45" fill="none" stroke="#a8560e" stroke-width="1.2"/><circle cx="157.1" cy="146.65" r="2.45" fill="none" stroke="#a8560e" stroke-width="1.2"/><circle cx="162.8" cy="148.77" r="2.45" fill="none" stroke="#a8560e" stroke-width="1.2"/><circle cx="168.5" cy="150.77" r="2.45" fill="none" stroke="#a8560e" stroke-width="1.2"/><circle cx="174.2" cy="152.77" r="2.45" fill="none" stroke="#a8560e" stroke-width="1.2"/><circle cx="179.9" cy="154.65" r="2.45" fill="none" stroke="#a8560e" stroke-width="1.2"/><circle cx="185.6" cy="156.05" r="2.45" fill="none" stroke="#a8560e" stroke-width="1.2"/><circle cx="191.3" cy="158.23" r="2.45" fill="none" stroke="#a8560e" stroke-width="1.2"/><circle cx="197" cy="160.16" r="2.45" fill="none" stroke="#a8560e" stroke-width="1.2"/><circle cx="202.7" cy="162.05" r="2.45" fill="none" stroke="#a8560e" stroke-width="1.2"/><circle cx="208.4" cy="163.79" r="2.45" fill="none" stroke="#a8560e" stroke-width="1.2"/><circle cx="214.1" cy="165.52" r="2.45" fill="none" stroke="#a8560e" stroke-width="1.2"/><circle cx="219.8" cy="167.76" r="2.45" fill="none" stroke="#a8560e" stroke-width="1.2"/><circle cx="225.5" cy="169.48" r="2.45" fill="none" stroke="#a8560e" stroke-width="1.2"/><circle cx="231.2" cy="171.74" r="2.45" fill="none" stroke="#a8560e" stroke-width="1.2"/><circle cx="236.9" cy="174.39" r="2.45" fill="none" stroke="#a8560e" stroke-width="1.2"/><circle cx="242.6" cy="175.99" r="2.45" fill="none" stroke="#a8560e" stroke-width="1.2"/><circle cx="248.3" cy="178.39" r="2.45" fill="none" stroke="#a8560e" stroke-width="1.2"/><circle cx="254" cy="180.04" r="2.45" fill="none" stroke="#a8560e" stroke-width="1.2"/><circle cx="259.7" cy="181.62" r="2.45" fill="none" stroke="#a8560e" stroke-width="1.2"/><circle cx="265.4" cy="182.98" r="2.45" fill="none" stroke="#a8560e" stroke-width="1.2"/><circle cx="271.1" cy="186.18" r="2.45" fill="none" stroke="#a8560e" stroke-width="1.2"/><circle cx="276.8" cy="187.47" r="2.45" fill="none" stroke="#a8560e" stroke-width="1.2"/><circle cx="282.5" cy="189.45" r="2.45" fill="none" stroke="#a8560e" stroke-width="1.2"/><circle cx="291.05" cy="192.24" r="2.45" fill="none" stroke="#a8560e" stroke-width="1.2"/><circle cx="302.45" cy="196.04" r="2.45" fill="none" stroke="#a8560e" stroke-width="1.2"/><circle cx="313.85" cy="201.19" r="2.45" fill="none" stroke="#a8560e" stroke-width="1.2"/><circle cx="325.25" cy="206.2" r="2.45" fill="none" stroke="#a8560e" stroke-width="1.2"/><circle cx="336.65" cy="210.3" r="2.45" fill="none" stroke="#a8560e" stroke-width="1.2"/><circle cx="348.05" cy="215.3" r="2.45" fill="none" stroke="#a8560e" stroke-width="1.2"/><circle cx="359.45" cy="221.5" r="2.45" fill="none" stroke="#a8560e" stroke-width="1.2"/>
<g clip-path="url(#cm)"><polyline points="54.5,94.94 60.2,120.06 65.9,113.91 71.6,112.18 77.3,110.8 83,113.2 88.7,114.82 94.4,116.64 100.1,118.75 105.8,120.86 111.5,122.35 117.2,124.8 122.9,127.04 128.6,129.04 134.3,131.35 140,133.66 145.7,136.29 151.4,139 157.1,141.44 162.8,143.92 168.5,146.43 174.2,149.13 179.9,151.77 185.6,155.03 191.3,157.78 197,160.74 202.7,163.9 208.4,167.23 214.1,170.17 219.8,173.77 225.5,177.57 231.2,181.36 236.9,185.34 242.6,188.53 248.3,193.12 254,196.69 259.7,200.61 265.4,203.99 271.1,207.8 276.8,211.5 282.5,214.9 291.05,222.3 302.45,230.8 313.85,240.6 325.25,249.3 336.65,257.6 348.05,267.8 359.45,274.3" fill="none" stroke="#389818" stroke-width="1.1" stroke-dasharray="2.8 1.7"/></g><rect x="51.9" y="92.34" width="5.2" height="5.2" fill="none" stroke="#389818" stroke-width="1.25"/><rect x="57.6" y="117.46" width="5.2" height="5.2" fill="none" stroke="#389818" stroke-width="1.25"/><rect x="63.3" y="111.31" width="5.2" height="5.2" fill="none" stroke="#389818" stroke-width="1.25"/><rect x="69" y="109.58" width="5.2" height="5.2" fill="none" stroke="#389818" stroke-width="1.25"/><rect x="74.7" y="108.2" width="5.2" height="5.2" fill="none" stroke="#389818" stroke-width="1.25"/><rect x="80.4" y="110.6" width="5.2" height="5.2" fill="none" stroke="#389818" stroke-width="1.25"/><rect x="86.1" y="112.22" width="5.2" height="5.2" fill="none" stroke="#389818" stroke-width="1.25"/><rect x="91.8" y="114.04" width="5.2" height="5.2" fill="none" stroke="#389818" stroke-width="1.25"/><rect x="97.5" y="116.15" width="5.2" height="5.2" fill="none" stroke="#389818" stroke-width="1.25"/><rect x="103.2" y="118.26" width="5.2" height="5.2" fill="none" stroke="#389818" stroke-width="1.25"/><rect x="108.9" y="119.75" width="5.2" height="5.2" fill="none" stroke="#389818" stroke-width="1.25"/><rect x="114.6" y="122.2" width="5.2" height="5.2" fill="none" stroke="#389818" stroke-width="1.25"/><rect x="120.3" y="124.44" width="5.2" height="5.2" fill="none" stroke="#389818" stroke-width="1.25"/><rect x="126" y="126.44" width="5.2" height="5.2" fill="none" stroke="#389818" stroke-width="1.25"/><rect x="131.7" y="128.75" width="5.2" height="5.2" fill="none" stroke="#389818" stroke-width="1.25"/><rect x="137.4" y="131.06" width="5.2" height="5.2" fill="none" stroke="#389818" stroke-width="1.25"/><rect x="143.1" y="133.69" width="5.2" height="5.2" fill="none" stroke="#389818" stroke-width="1.25"/><rect x="148.8" y="136.4" width="5.2" height="5.2" fill="none" stroke="#389818" stroke-width="1.25"/><rect x="154.5" y="138.84" width="5.2" height="5.2" fill="none" stroke="#389818" stroke-width="1.25"/><rect x="160.2" y="141.32" width="5.2" height="5.2" fill="none" stroke="#389818" stroke-width="1.25"/><rect x="165.9" y="143.83" width="5.2" height="5.2" fill="none" stroke="#389818" stroke-width="1.25"/><rect x="171.6" y="146.53" width="5.2" height="5.2" fill="none" stroke="#389818" stroke-width="1.25"/><rect x="177.3" y="149.17" width="5.2" height="5.2" fill="none" stroke="#389818" stroke-width="1.25"/><rect x="183" y="152.43" width="5.2" height="5.2" fill="none" stroke="#389818" stroke-width="1.25"/><rect x="188.7" y="155.18" width="5.2" height="5.2" fill="none" stroke="#389818" stroke-width="1.25"/><rect x="194.4" y="158.14" width="5.2" height="5.2" fill="none" stroke="#389818" stroke-width="1.25"/><rect x="200.1" y="161.3" width="5.2" height="5.2" fill="none" stroke="#389818" stroke-width="1.25"/><rect x="205.8" y="164.63" width="5.2" height="5.2" fill="none" stroke="#389818" stroke-width="1.25"/><rect x="211.5" y="167.57" width="5.2" height="5.2" fill="none" stroke="#389818" stroke-width="1.25"/><rect x="217.2" y="171.17" width="5.2" height="5.2" fill="none" stroke="#389818" stroke-width="1.25"/><rect x="222.9" y="174.97" width="5.2" height="5.2" fill="none" stroke="#389818" stroke-width="1.25"/><rect x="228.6" y="178.76" width="5.2" height="5.2" fill="none" stroke="#389818" stroke-width="1.25"/><rect x="234.3" y="182.74" width="5.2" height="5.2" fill="none" stroke="#389818" stroke-width="1.25"/><rect x="240" y="185.93" width="5.2" height="5.2" fill="none" stroke="#389818" stroke-width="1.25"/><rect x="245.7" y="190.52" width="5.2" height="5.2" fill="none" stroke="#389818" stroke-width="1.25"/><rect x="251.4" y="194.09" width="5.2" height="5.2" fill="none" stroke="#389818" stroke-width="1.25"/><rect x="257.1" y="198.01" width="5.2" height="5.2" fill="none" stroke="#389818" stroke-width="1.25"/><rect x="262.8" y="201.39" width="5.2" height="5.2" fill="none" stroke="#389818" stroke-width="1.25"/><rect x="268.5" y="205.2" width="5.2" height="5.2" fill="none" stroke="#389818" stroke-width="1.25"/><rect x="274.2" y="208.9" width="5.2" height="5.2" fill="none" stroke="#389818" stroke-width="1.25"/><rect x="279.9" y="212.3" width="5.2" height="5.2" fill="none" stroke="#389818" stroke-width="1.25"/><rect x="288.45" y="219.7" width="5.2" height="5.2" fill="none" stroke="#389818" stroke-width="1.25"/><rect x="299.85" y="228.2" width="5.2" height="5.2" fill="none" stroke="#389818" stroke-width="1.25"/><rect x="311.25" y="238" width="5.2" height="5.2" fill="none" stroke="#389818" stroke-width="1.25"/><rect x="322.65" y="246.7" width="5.2" height="5.2" fill="none" stroke="#389818" stroke-width="1.25"/><rect x="334.05" y="255" width="5.2" height="5.2" fill="none" stroke="#389818" stroke-width="1.25"/><rect x="345.45" y="265.2" width="5.2" height="5.2" fill="none" stroke="#389818" stroke-width="1.25"/><rect x="356.85" y="271.7" width="5.2" height="5.2" fill="none" stroke="#389818" stroke-width="1.25"/>
<g clip-path="url(#cm)"><path d="M325.25 229.3V232.43M323.85 229.3H326.65M323.85 232.43H326.65" stroke="#0000ff" stroke-width="1" fill="none"/><path d="M336.65 240.01V244.72M335.25 240.01H338.05M335.25 244.72H338.05" stroke="#0000ff" stroke-width="1" fill="none"/><path d="M348.05 247.38V252.09M346.65 247.38H349.45M346.65 252.09H349.45" stroke="#0000ff" stroke-width="1" fill="none"/><path d="M359.45 254.79V261.9M358.05 254.79H360.85M358.05 261.9H360.85" stroke="#0000ff" stroke-width="1" fill="none"/><polyline points="54.5,94.87 60.2,122.83 65.9,117.73 71.6,114.44 77.3,111.9 83,111.17 88.7,111.67 94.4,113.67 100.1,116.77 105.8,119.97 111.5,123.26 117.2,126.57 122.9,129.43 128.6,131.76 134.3,134.12 140,136.14 145.7,138.69 151.4,141.19 157.1,143.34 162.8,145.84 168.5,147.93 174.2,150.05 179.9,153.02 185.6,154.53 191.3,156.62 197,159.42 202.7,162.74 208.4,164.46 214.1,167.44 219.8,170.31 225.5,174.15 231.2,175.54 236.9,178.5 242.6,183.3 248.3,186.24 254,190.39 259.7,192.03 265.4,194.76 271.1,199.7 276.8,203.76 282.5,209.34 291.05,211.28 302.45,219.24 313.85,226.4 325.25,230.8 336.65,242.22 348.05,249.6 359.45,258.02" fill="none" stroke="#0000ff" stroke-width="1"/></g><polygon points="54.5,91.67 57.4,97.17 51.6,97.17" fill="#0000ff"/><polygon points="60.2,119.63 63.1,125.13 57.3,125.13" fill="#0000ff"/><polygon points="65.9,114.53 68.8,120.03 63,120.03" fill="#0000ff"/><polygon points="71.6,111.24 74.5,116.74 68.7,116.74" fill="#0000ff"/><polygon points="77.3,108.7 80.2,114.2 74.4,114.2" fill="#0000ff"/><polygon points="83,107.97 85.9,113.47 80.1,113.47" fill="#0000ff"/><polygon points="88.7,108.47 91.6,113.97 85.8,113.97" fill="#0000ff"/><polygon points="94.4,110.47 97.3,115.97 91.5,115.97" fill="#0000ff"/><polygon points="100.1,113.56 103,119.06 97.2,119.06" fill="#0000ff"/><polygon points="105.8,116.77 108.7,122.27 102.9,122.27" fill="#0000ff"/><polygon points="111.5,120.06 114.4,125.56 108.6,125.56" fill="#0000ff"/><polygon points="117.2,123.37 120.1,128.87 114.3,128.87" fill="#0000ff"/><polygon points="122.9,126.23 125.8,131.73 120,131.73" fill="#0000ff"/><polygon points="128.6,128.56 131.5,134.06 125.7,134.06" fill="#0000ff"/><polygon points="134.3,130.92 137.2,136.42 131.4,136.42" fill="#0000ff"/><polygon points="140,132.94 142.9,138.44 137.1,138.44" fill="#0000ff"/><polygon points="145.7,135.49 148.6,140.99 142.8,140.99" fill="#0000ff"/><polygon points="151.4,137.99 154.3,143.49 148.5,143.49" fill="#0000ff"/><polygon points="157.1,140.14 160,145.64 154.2,145.64" fill="#0000ff"/><polygon points="162.8,142.64 165.7,148.14 159.9,148.14" fill="#0000ff"/><polygon points="168.5,144.73 171.4,150.23 165.6,150.23" fill="#0000ff"/><polygon points="174.2,146.85 177.1,152.35 171.3,152.35" fill="#0000ff"/><polygon points="179.9,149.82 182.8,155.32 177,155.32" fill="#0000ff"/><polygon points="185.6,151.33 188.5,156.83 182.7,156.83" fill="#0000ff"/><polygon points="191.3,153.42 194.2,158.92 188.4,158.92" fill="#0000ff"/><polygon points="197,156.22 199.9,161.72 194.1,161.72" fill="#0000ff"/><polygon points="202.7,159.54 205.6,165.04 199.8,165.04" fill="#0000ff"/><polygon points="208.4,161.26 211.3,166.76 205.5,166.76" fill="#0000ff"/><polygon points="214.1,164.24 217,169.74 211.2,169.74" fill="#0000ff"/><polygon points="219.8,167.11 222.7,172.61 216.9,172.61" fill="#0000ff"/><polygon points="225.5,170.95 228.4,176.45 222.6,176.45" fill="#0000ff"/><polygon points="231.2,172.34 234.1,177.84 228.3,177.84" fill="#0000ff"/><polygon points="236.9,175.3 239.8,180.8 234,180.8" fill="#0000ff"/><polygon points="242.6,180.1 245.5,185.6 239.7,185.6" fill="#0000ff"/><polygon points="248.3,183.04 251.2,188.54 245.4,188.54" fill="#0000ff"/><polygon points="254,187.19 256.9,192.69 251.1,192.69" fill="#0000ff"/><polygon points="259.7,188.83 262.6,194.33 256.8,194.33" fill="#0000ff"/><polygon points="265.4,191.56 268.3,197.06 262.5,197.06" fill="#0000ff"/><polygon points="271.1,196.5 274,202 268.2,202" fill="#0000ff"/><polygon points="276.8,200.56 279.7,206.06 273.9,206.06" fill="#0000ff"/><polygon points="282.5,206.14 285.4,211.64 279.6,211.64" fill="#0000ff"/><polygon points="291.05,208.08 293.95,213.58 288.15,213.58" fill="#0000ff"/><polygon points="302.45,216.04 305.35,221.54 299.55,221.54" fill="#0000ff"/><polygon points="313.85,223.2 316.75,228.7 310.95,228.7" fill="#0000ff"/><polygon points="325.25,227.6 328.15,233.1 322.35,233.1" fill="#0000ff"/><polygon points="336.65,239.02 339.55,244.52 333.75,244.52" fill="#0000ff"/><polygon points="348.05,246.4 350.95,251.9 345.15,251.9" fill="#0000ff"/><polygon points="359.45,254.82 362.35,260.32 356.55,260.32" fill="#0000ff"/>
<g clip-path="url(#cm)"><polyline points="54.5,159.6 60.2,149.5 65.9,134.8 71.6,123.7 77.3,115.2 83,109.6 88.7,106 94.4,104.2 100.1,103.8 105.8,105.2 111.5,107.4 117.2,110.7 122.9,114.6 128.6,119.3 134.3,124.7 140,130.4 145.7,136.5 151.4,142.3 157.1,148.4 162.8,154.6 168.5,160.3 174.2,165.5 179.9,170.4 185.6,175.5 191.3,178.5 197,182.2 202.7,185 208.4,187.7 214.1,190.7 219.8,193.4 225.5,195.8 231.2,197.9 236.9,199.9 242.6,202.5 248.3,205 254,207.8 259.7,210.4 265.4,212.9 271.1,214.9 276.8,216.9 282.5,219 291.05,223.5 302.45,228.36 313.85,234.02 325.25,240.79 336.65,246.65 348.05,250.53 359.45,256.06" fill="none" stroke="#ff0000" stroke-width="1.1" stroke-dasharray="1 1.3"/></g><polygon points="54.5,156.2 56.7,159.6 54.5,163 52.3,159.6" fill="#ff0000"/><polygon points="60.2,146.1 62.4,149.5 60.2,152.9 58,149.5" fill="#ff0000"/><polygon points="65.9,131.4 68.1,134.8 65.9,138.2 63.7,134.8" fill="#ff0000"/><polygon points="71.6,120.3 73.8,123.7 71.6,127.1 69.4,123.7" fill="#ff0000"/><polygon points="77.3,111.8 79.5,115.2 77.3,118.6 75.1,115.2" fill="#ff0000"/><polygon points="83,106.2 85.2,109.6 83,113 80.8,109.6" fill="#ff0000"/><polygon points="88.7,102.6 90.9,106 88.7,109.4 86.5,106" fill="#ff0000"/><polygon points="94.4,100.8 96.6,104.2 94.4,107.6 92.2,104.2" fill="#ff0000"/><polygon points="100.1,100.4 102.3,103.8 100.1,107.2 97.9,103.8" fill="#ff0000"/><polygon points="105.8,101.8 108,105.2 105.8,108.6 103.6,105.2" fill="#ff0000"/><polygon points="111.5,104 113.7,107.4 111.5,110.8 109.3,107.4" fill="#ff0000"/><polygon points="117.2,107.3 119.4,110.7 117.2,114.1 115,110.7" fill="#ff0000"/><polygon points="122.9,111.2 125.1,114.6 122.9,118 120.7,114.6" fill="#ff0000"/><polygon points="128.6,115.9 130.8,119.3 128.6,122.7 126.4,119.3" fill="#ff0000"/><polygon points="134.3,121.3 136.5,124.7 134.3,128.1 132.1,124.7" fill="#ff0000"/><polygon points="140,127 142.2,130.4 140,133.8 137.8,130.4" fill="#ff0000"/><polygon points="145.7,133.1 147.9,136.5 145.7,139.9 143.5,136.5" fill="#ff0000"/><polygon points="151.4,138.9 153.6,142.3 151.4,145.7 149.2,142.3" fill="#ff0000"/><polygon points="157.1,145 159.3,148.4 157.1,151.8 154.9,148.4" fill="#ff0000"/><polygon points="162.8,151.2 165,154.6 162.8,158 160.6,154.6" fill="#ff0000"/><polygon points="168.5,156.9 170.7,160.3 168.5,163.7 166.3,160.3" fill="#ff0000"/><polygon points="174.2,162.1 176.4,165.5 174.2,168.9 172,165.5" fill="#ff0000"/><polygon points="179.9,167 182.1,170.4 179.9,173.8 177.7,170.4" fill="#ff0000"/><polygon points="185.6,172.1 187.8,175.5 185.6,178.9 183.4,175.5" fill="#ff0000"/><polygon points="191.3,175.1 193.5,178.5 191.3,181.9 189.1,178.5" fill="#ff0000"/><polygon points="197,178.8 199.2,182.2 197,185.6 194.8,182.2" fill="#ff0000"/><polygon points="202.7,181.6 204.9,185 202.7,188.4 200.5,185" fill="#ff0000"/><polygon points="208.4,184.3 210.6,187.7 208.4,191.1 206.2,187.7" fill="#ff0000"/><polygon points="214.1,187.3 216.3,190.7 214.1,194.1 211.9,190.7" fill="#ff0000"/><polygon points="219.8,190 222,193.4 219.8,196.8 217.6,193.4" fill="#ff0000"/><polygon points="225.5,192.4 227.7,195.8 225.5,199.2 223.3,195.8" fill="#ff0000"/><polygon points="231.2,194.5 233.4,197.9 231.2,201.3 229,197.9" fill="#ff0000"/><polygon points="236.9,196.5 239.1,199.9 236.9,203.3 234.7,199.9" fill="#ff0000"/><polygon points="242.6,199.1 244.8,202.5 242.6,205.9 240.4,202.5" fill="#ff0000"/><polygon points="248.3,201.6 250.5,205 248.3,208.4 246.1,205" fill="#ff0000"/><polygon points="254,204.4 256.2,207.8 254,211.2 251.8,207.8" fill="#ff0000"/><polygon points="259.7,207 261.9,210.4 259.7,213.8 257.5,210.4" fill="#ff0000"/><polygon points="265.4,209.5 267.6,212.9 265.4,216.3 263.2,212.9" fill="#ff0000"/><polygon points="271.1,211.5 273.3,214.9 271.1,218.3 268.9,214.9" fill="#ff0000"/><polygon points="276.8,213.5 279,216.9 276.8,220.3 274.6,216.9" fill="#ff0000"/><polygon points="282.5,215.6 284.7,219 282.5,222.4 280.3,219" fill="#ff0000"/><polygon points="291.05,220.1 293.25,223.5 291.05,226.9 288.85,223.5" fill="#ff0000"/><polygon points="302.45,224.96 304.65,228.36 302.45,231.76 300.25,228.36" fill="#ff0000"/><polygon points="313.85,230.62 316.05,234.02 313.85,237.42 311.65,234.02" fill="#ff0000"/><polygon points="325.25,237.39 327.45,240.79 325.25,244.19 323.05,240.79" fill="#ff0000"/><polygon points="336.65,243.25 338.85,246.65 336.65,250.05 334.45,246.65" fill="#ff0000"/><polygon points="348.05,247.13 350.25,250.53 348.05,253.93 345.85,250.53" fill="#ff0000"/><polygon points="359.45,252.66 361.65,256.06 359.45,259.46 357.25,256.06" fill="#ff0000"/>
<path d="M54.5 17.5L54.5 26M54.5 317.5L54.5 309.5M54.5 317.5L54.5 323M54.5 477.5L54.5 472.5M83 17.5L83 22M83 317.5L83 313.5M83 317.5L83 320M83 477.5L83 475M111.5 17.5L111.5 22M111.5 317.5L111.5 313.5M111.5 317.5L111.5 320M111.5 477.5L111.5 475M140 17.5L140 22M140 317.5L140 313.5M140 317.5L140 320M140 477.5L140 475M168.5 17.5L168.5 26M168.5 317.5L168.5 309.5M168.5 317.5L168.5 323M168.5 477.5L168.5 472.5M197 17.5L197 22M197 317.5L197 313.5M197 317.5L197 320M197 477.5L197 475M225.5 17.5L225.5 22M225.5 317.5L225.5 313.5M225.5 317.5L225.5 320M225.5 477.5L225.5 475M254 17.5L254 22M254 317.5L254 313.5M254 317.5L254 320M254 477.5L254 475M282.5 17.5L282.5 26M282.5 317.5L282.5 309.5M282.5 317.5L282.5 323M282.5 477.5L282.5 472.5M311 17.5L311 22M311 317.5L311 313.5M311 317.5L311 320M311 477.5L311 475M339.5 17.5L339.5 22M339.5 317.5L339.5 313.5M339.5 317.5L339.5 320M339.5 477.5L339.5 475M368 17.5L368 22M368 317.5L368 313.5M368 317.5L368 320M368 477.5L368 475M45.5 315.95L51.5 315.95M371.5 315.95L365.5 315.95M45.5 308.03L51.5 308.03M371.5 308.03L365.5 308.03M45.5 302.41L51.5 302.41M371.5 302.41L365.5 302.41M45.5 298.05L51.5 298.05M371.5 298.05L365.5 298.05M45.5 294.48L51.5 294.48M371.5 294.48L365.5 294.48M45.5 291.47L51.5 291.47M371.5 291.47L365.5 291.47M45.5 288.86L51.5 288.86M371.5 288.86L365.5 288.86M45.5 286.56L51.5 286.56M371.5 286.56L365.5 286.56M45.5 284.5L56.5 284.5M371.5 284.5L360.5 284.5M45.5 270.95L51.5 270.95M371.5 270.95L365.5 270.95M45.5 263.03L51.5 263.03M371.5 263.03L365.5 263.03M45.5 257.41L51.5 257.41M371.5 257.41L365.5 257.41M45.5 253.05L51.5 253.05M371.5 253.05L365.5 253.05M45.5 249.48L51.5 249.48M371.5 249.48L365.5 249.48M45.5 246.47L51.5 246.47M371.5 246.47L365.5 246.47M45.5 243.86L51.5 243.86M371.5 243.86L365.5 243.86M45.5 241.56L51.5 241.56M371.5 241.56L365.5 241.56M45.5 239.5L56.5 239.5M371.5 239.5L360.5 239.5M45.5 225.95L51.5 225.95M371.5 225.95L365.5 225.95M45.5 218.03L51.5 218.03M371.5 218.03L365.5 218.03M45.5 212.41L51.5 212.41M371.5 212.41L365.5 212.41M45.5 208.05L51.5 208.05M371.5 208.05L365.5 208.05M45.5 204.48L51.5 204.48M371.5 204.48L365.5 204.48M45.5 201.47L51.5 201.47M371.5 201.47L365.5 201.47M45.5 198.86L51.5 198.86M371.5 198.86L365.5 198.86M45.5 196.56L51.5 196.56M371.5 196.56L365.5 196.56M45.5 194.5L56.5 194.5M371.5 194.5L360.5 194.5M45.5 180.95L51.5 180.95M371.5 180.95L365.5 180.95M45.5 173.03L51.5 173.03M371.5 173.03L365.5 173.03M45.5 167.41L51.5 167.41M371.5 167.41L365.5 167.41M45.5 163.05L51.5 163.05M371.5 163.05L365.5 163.05M45.5 159.48L51.5 159.48M371.5 159.48L365.5 159.48M45.5 156.47L51.5 156.47M371.5 156.47L365.5 156.47M45.5 153.86L51.5 153.86M371.5 153.86L365.5 153.86M45.5 151.56L51.5 151.56M371.5 151.56L365.5 151.56M45.5 149.5L56.5 149.5M371.5 149.5L360.5 149.5M45.5 135.95L51.5 135.95M371.5 135.95L365.5 135.95M45.5 128.03L51.5 128.03M371.5 128.03L365.5 128.03M45.5 122.41L51.5 122.41M371.5 122.41L365.5 122.41M45.5 118.05L51.5 118.05M371.5 118.05L365.5 118.05M45.5 114.48L51.5 114.48M371.5 114.48L365.5 114.48M45.5 111.47L51.5 111.47M371.5 111.47L365.5 111.47M45.5 108.86L51.5 108.86M371.5 108.86L365.5 108.86M45.5 106.56L51.5 106.56M371.5 106.56L365.5 106.56M45.5 104.5L56.5 104.5M371.5 104.5L360.5 104.5M45.5 90.95L51.5 90.95M371.5 90.95L365.5 90.95M45.5 83.03L51.5 83.03M371.5 83.03L365.5 83.03M45.5 77.41L51.5 77.41M371.5 77.41L365.5 77.41M45.5 73.05L51.5 73.05M371.5 73.05L365.5 73.05M45.5 69.48L51.5 69.48M371.5 69.48L365.5 69.48M45.5 66.47L51.5 66.47M371.5 66.47L365.5 66.47M45.5 63.86L51.5 63.86M371.5 63.86L365.5 63.86M45.5 61.56L51.5 61.56M371.5 61.56L365.5 61.56M45.5 59.5L56.5 59.5M371.5 59.5L360.5 59.5M45.5 45.95L51.5 45.95M371.5 45.95L365.5 45.95M45.5 38.03L51.5 38.03M371.5 38.03L365.5 38.03M45.5 32.41L51.5 32.41M371.5 32.41L365.5 32.41M45.5 28.05L51.5 28.05M371.5 28.05L365.5 28.05M45.5 24.48L51.5 24.48M371.5 24.48L365.5 24.48M45.5 21.47L51.5 21.47M371.5 21.47L365.5 21.47M45.5 18.86L51.5 18.86M371.5 18.86L365.5 18.86M45.5 458.3L52.5 458.3M371.5 458.3L364.5 458.3M45.5 442.36L50.5 442.36M371.5 442.36L366.5 442.36M45.5 428.88L50.5 428.88M371.5 428.88L366.5 428.88M45.5 417.21L50.5 417.21M371.5 417.21L366.5 417.21M45.5 406.91L50.5 406.91M371.5 406.91L366.5 406.91M45.5 397.7L52.5 397.7M371.5 397.7L364.5 397.7M45.5 389.37L50.5 389.37M371.5 389.37L366.5 389.37M45.5 381.76L50.5 381.76M371.5 381.76L366.5 381.76M45.5 374.76L50.5 374.76M371.5 374.76L366.5 374.76M45.5 368.28L50.5 368.28M371.5 368.28L366.5 368.28M45.5 362.25L50.5 362.25M371.5 362.25L366.5 362.25M45.5 356.61L50.5 356.61M371.5 356.61L366.5 356.61M45.5 351.31L50.5 351.31M371.5 351.31L366.5 351.31M45.5 346.31L50.5 346.31M371.5 346.31L366.5 346.31M45.5 341.58L50.5 341.58M371.5 341.58L366.5 341.58M45.5 337.1L52.5 337.1M371.5 337.1L364.5 337.1M45.5 332.83L50.5 332.83M371.5 332.83L366.5 332.83M45.5 328.77L50.5 328.77M371.5 328.77L366.5 328.77M45.5 324.88L50.5 324.88M371.5 324.88L366.5 324.88M45.5 321.16L50.5 321.16M371.5 321.16L366.5 321.16" stroke="#000" stroke-width="1" fill="none"/>
<path d="M45.5 477.5V17.5H371.5V477.5M45.5 317.5H371.5" stroke="#000" stroke-width="1" fill="none"/>
<path d="M45 477.75H372" stroke="#000" stroke-width="1.4" fill="none"/>
<rect x="73.6" y="221.1" width="5.8" height="5.8" fill="#000"/>
<text x="94.4" y="227.2" font-size="9.4" textLength="27" lengthAdjust="spacingAndGlyphs">ALICE</text>
<path d="M64.1 236.95H88" stroke="#a8560e" stroke-width="1" fill="none" stroke-dasharray="2.8 1.7"/>
<circle cx="76.5" cy="236.95" r="2.45" fill="none" stroke="#a8560e" stroke-width="1.2"/>
<text x="94.4" y="240.15" font-size="9.4" textLength="94.4" lengthAdjust="spacingAndGlyphs">Herwig++ 2.7.1 default</text>
<path d="M64.1 249.9H88" stroke="#389818" stroke-width="1" fill="none" stroke-dasharray="2.8 1.7"/>
<rect x="73.9" y="247.3" width="5.2" height="5.2" fill="none" stroke="#389818" stroke-width="1.25"/>
<text x="94.4" y="253.1" font-size="9.4" textLength="83.2" lengthAdjust="spacingAndGlyphs">Herwig 7.2.1 default</text>
<path d="M64.1 262.85H88" stroke="#0000ff" stroke-width="1" fill="none"/>
<polygon points="76.5,259.65 79.4,265.15 73.6,265.15" fill="#0000ff"/>
<text x="94.4" y="266.05" font-size="9.4" textLength="83.2" lengthAdjust="spacingAndGlyphs">Pythia 8.212 default</text>
<path d="M64.1 275.8H88" stroke="#ff0000" stroke-width="1" fill="none" stroke-dasharray="1 1.3"/>
<polygon points="76.5,272.4 78.7,275.8 76.5,279.2 74.3,275.8" fill="#ff0000"/>
<text x="94.4" y="279" font-size="9.4" textLength="84.2" lengthAdjust="spacingAndGlyphs">Sherpa 2.2.9 default</text>
<text x="51.4" y="13.5" font-size="12" fill="#000" textLength="63.7" lengthAdjust="spacingAndGlyphs">900 GeV pp</text>
<text x="315.2" y="14" font-size="12" fill="#000" textLength="51.1" lengthAdjust="spacingAndGlyphs">Soft QCD</text>
<text x="135.3" y="43" font-size="12" fill="#000" textLength="103.6" lengthAdjust="spacingAndGlyphs">Charged multiplicity</text>
<text x="241.7" y="43.4" font-size="9" fill="#000" textLength="40.1" lengthAdjust="spacingAndGlyphs">(|&#951;| &lt; 1.3)</text>
<text x="166.1" y="302.1" font-size="8.6" fill="#aaa" textLength="84.1" lengthAdjust="spacingAndGlyphs">ALICE_2010_S8624100</text>
<text x="39.3" y="63.7" font-size="11" fill="#000" text-anchor="end">1</text>
<text x="19.8" y="110.2" font-size="10.8" textLength="11" lengthAdjust="spacingAndGlyphs">10</text>
<text x="30.6" y="103.2" font-size="7.3">&#8722;1</text>
<text x="19.8" y="155.2" font-size="10.8" textLength="11" lengthAdjust="spacingAndGlyphs">10</text>
<text x="30.6" y="148.2" font-size="7.3">&#8722;2</text>
<text x="19.8" y="200.2" font-size="10.8" textLength="11" lengthAdjust="spacingAndGlyphs">10</text>
<text x="30.6" y="193.2" font-size="7.3">&#8722;3</text>
<text x="19.8" y="245.2" font-size="10.8" textLength="11" lengthAdjust="spacingAndGlyphs">10</text>
<text x="30.6" y="238.2" font-size="7.3">&#8722;4</text>
<text x="19.8" y="290.2" font-size="10.8" textLength="11" lengthAdjust="spacingAndGlyphs">10</text>
<text x="30.6" y="283.2" font-size="7.3">&#8722;5</text>
<text x="38.6" y="341.4" font-size="11.8" fill="#000" text-anchor="end">2</text>
<text x="373.9" y="341.4" font-size="11.8" fill="#000">2</text>
<text x="38.6" y="402" font-size="11.8" fill="#000" text-anchor="end">1</text>
<text x="373.9" y="402" font-size="11.8" fill="#000">1</text>
<text x="38.6" y="462.6" font-size="11.8" fill="#000" text-anchor="end">0.5</text>
<text x="373.9" y="462.6" font-size="11.8" fill="#000">0.5</text>
<text x="54.8" y="489" font-size="11.8" fill="#000" text-anchor="middle">0</text>
<text x="168.8" y="489" font-size="11.8" fill="#000" text-anchor="middle">20</text>
<text x="282.8" y="489" font-size="11.8" fill="#000" text-anchor="middle">40</text>
<text x="354.4" y="503" font-size="12" fill="#000">N</text>
<text x="362" y="507" font-size="8.6" fill="#000">ch</text>
<text transform="translate(15.1,58.5) rotate(-90)" font-size="12" textLength="32.8" lengthAdjust="spacingAndGlyphs">dN/dN</text>
<text transform="translate(18.9,24.9) rotate(-90)" font-size="8" textLength="6" lengthAdjust="spacingAndGlyphs">ch</text>
<text transform="translate(17.9,426.6) rotate(-90)" font-size="9.2" textLength="60" lengthAdjust="spacingAndGlyphs">Ratio to ALICE</text>
<text transform="translate(380.5,132) rotate(-90)" font-size="9.4" fill="#888" textLength="113.5" lengthAdjust="spacingAndGlyphs">Rivet 3.1.10, &#8805; 400k events</text>
<text transform="translate(380.9,313.2) rotate(-90)" font-size="9.3" fill="#888" textLength="141.2" lengthAdjust="spacingAndGlyphs">mcplots.cern.ch [arXiv:1306.3436]</text>
</svg></body></html>
